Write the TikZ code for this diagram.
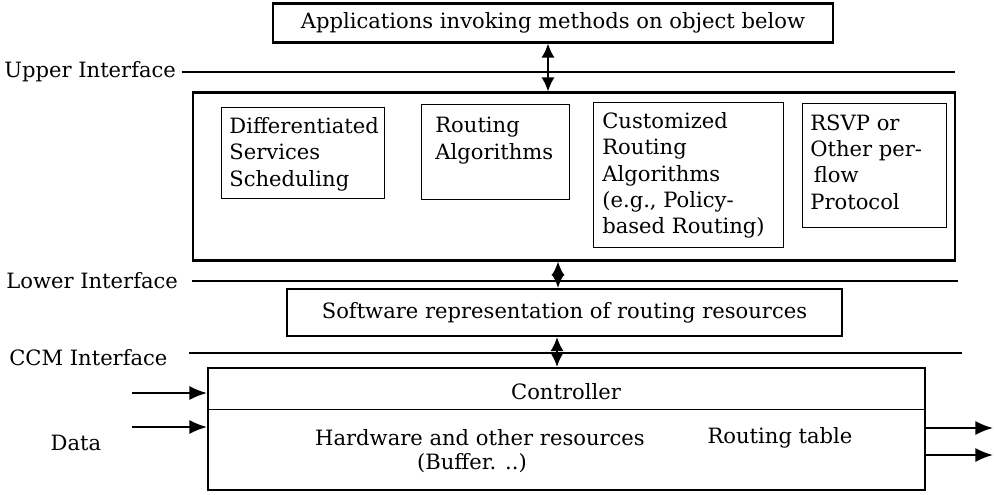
\documentclass[tikz,border=0pt]{standalone}
\usepackage{fontspec}
\setmainfont{DejaVu Serif}
\usetikzlibrary{arrows.meta}

\begin{document}
\begin{tikzpicture}[x=0.02cm,y=-0.02cm,
  font=\rmfamily\fontsize{12}{15}\selectfont,
  thickbox/.style={draw, line width=1.2pt, inner sep=0pt},
  thinbox/.style={draw, line width=0.6pt, inner sep=0pt, anchor=north west},
  boxtext/.style={anchor=north west, align=left, inner sep=0pt},
  iface/.style={line width=1pt},
  dbl/.style={line width=1.1pt, {Latex[length=8pt,width=7.5pt]}-{Latex[length=8pt,width=7.5pt]}},
  flow/.style={line width=1.1pt, -{Latex[length=10pt,width=8pt]}}]
\useasboundingbox (0,0) rectangle (994,494);
\node[thickbox, minimum width=11.2cm, minimum height=0.78cm] (apps) at (553,23) {Applications invoking methods on object below};
\node[thickbox, minimum width=15.24cm, minimum height=3.36cm] (proto) at (574,176.5) {};
\node[thinbox, minimum width=3.26cm, minimum height=1.82cm] (diffserv) at (221,107) {};
\node[thinbox, minimum width=2.96cm, minimum height=1.9cm] (routalg) at (421,104) {};
\node[thinbox, minimum width=3.8cm, minimum height=2.9cm] (custalg) at (593,102) {};
\node[thinbox, minimum width=2.88cm, minimum height=2.48cm] (rsvp) at (802,103) {};
\node[boxtext] (diffservtext) at (229,117) {Differentiated\\Services\\Scheduling};
\node[boxtext] (routalgtext) at (435,117) {Routing\\Algorithms};
\node[boxtext] (custalgtext) at (602,112) {Customized\\Routing\\Algorithms\\(e.g., Policy-\\based Routing)};
\node[boxtext] (rsvptext) at (810,114) {RSVP or\\Other per-\\\hspace{2pt}flow\\Protocol};
\node[thickbox, minimum width=11.1cm, minimum height=0.94cm] (swrep) at (564.5,312.5) {Software representation of routing resources};
\node[thickbox, minimum width=14.34cm, minimum height=2.44cm] (ccm) at (566.5,429) {};
\draw[line width=0.6pt] ([yshift=-0.86cm]ccm.north west) -- ([yshift=-0.86cm]ccm.north east);
\node (ctrl) at (566,392) {Controller};
\node (hw) at (480,438) {Hardware and other resources};
\node (buf) at (472,463) {(Buffer. ..)};
\node (rtab) at (780,438) {Routing table};
\node[anchor=west, inner sep=0pt] (upper) at (4,72) {Upper Interface};
\node[anchor=west, inner sep=0pt] (lower) at (6,281) {Lower Interface};
\node[anchor=west, inner sep=0pt] (ccmif) at (9,358) {CCM Interface};
\node (data) at (76,443) {Data};
\coordinate (upperend) at (955,72);
\coordinate (lowerend) at (958,281);
\coordinate (ccmend) at (962,353);
\draw[iface] ([xshift=3pt]upper.east) -- (upperend);
\draw[iface] ([xshift=8pt]lower.east |- lowerend) -- (lowerend);
\draw[iface] ([xshift=12pt]ccmif.east |- ccmend) -- (ccmend);
\draw[dbl] ([xshift=-0.1cm]apps.south) -- ([xshift=-0.1cm]apps.south |- proto.north);
\draw[dbl] ([xshift=-0.32cm]proto.south) -- ([xshift=-0.32cm]proto.south |- swrep.north);
\draw[dbl] ([xshift=-0.15cm]swrep.south) -- ([xshift=-0.15cm]swrep.south |- ccm.north);
\coordinate (in1) at (132,393);
\coordinate (in2) at (132,427);
\coordinate (out1) at (993,428);
\coordinate (out2) at (993,455);
\draw[flow] (in1) -- (in1 -| ccm.west);
\draw[flow] (in2) -- (in2 -| ccm.west);
\draw[flow] (out1 -| ccm.east) -- (out1);
\draw[flow] (out2 -| ccm.east) -- (out2);
\end{tikzpicture}
\end{document}
